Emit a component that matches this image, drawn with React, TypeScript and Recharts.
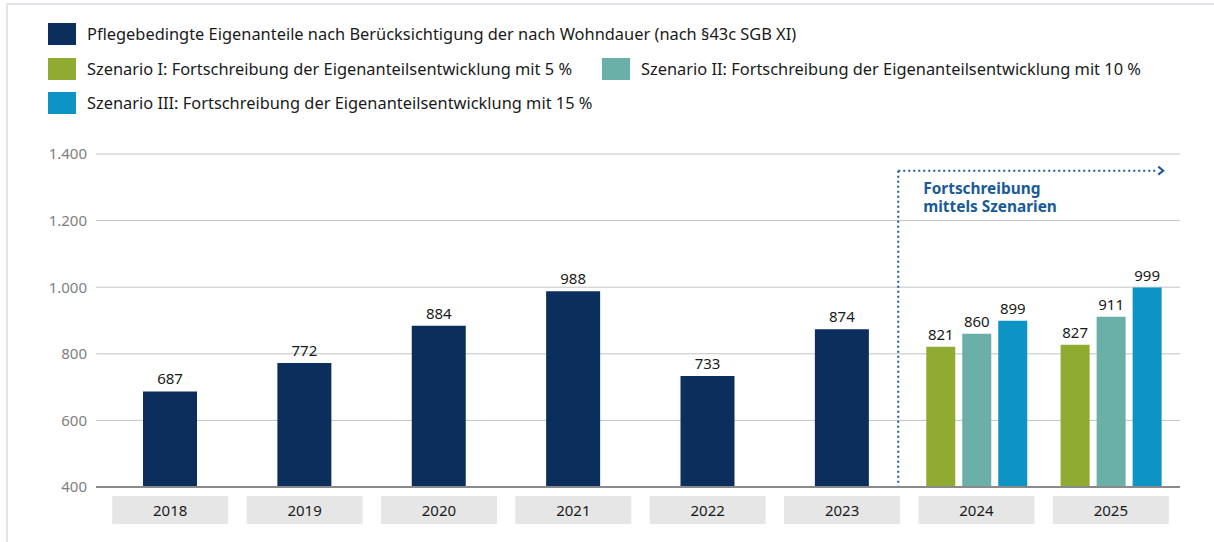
import React from "react";
import {
  BarChart,
  Bar,
  XAxis,
  YAxis,
  CartesianGrid,
  LabelList,
  ReferenceLine,
} from "recharts";

// Werte (Euro pro Monat)
const years = ["2018", "2019", "2020", "2021", "2022", "2023", "2024", "2025"];
const eigenanteile = [687, 772, 884, 988, 733, 874, null, null];
const szenarioI = [null, null, null, null, null, null, 821, 827];
const szenarioII = [null, null, null, null, null, null, 860, 911];
const szenarioIII = [null, null, null, null, null, null, 899, 999];
const yTicks = [400, 600, 800, 1000, 1200, 1400];

const seriesNames = [
  "Pflegebedingte Eigenanteile nach Berücksichtigung der nach Wohndauer (nach §43c SGB XI)",
  "Szenario I: Fortschreibung der Eigenanteilsentwicklung mit 5 %",
  "Szenario II: Fortschreibung der Eigenanteilsentwicklung mit 10 %",
  "Szenario III: Fortschreibung der Eigenanteilsentwicklung mit 15 %",
];
const annotationLines = ["Fortschreibung", "mittels Szenarien"];

const COLORS = ["#0c2e5c", "#8fab32", "#6aafa8", "#0d93c4"];
const FONT = "'Noto Sans', sans-serif";
const BLUE_TEXT = "#1a5b96";

const data = years.map((year, i) => ({
  year,
  eigenanteile: eigenanteile[i],
  szenarioI: szenarioI[i],
  szenarioII: szenarioII[i],
  szenarioIII: szenarioIII[i],
}));

const fmt = (v: number) => v.toLocaleString("de-DE");

const YearTick = (props: any) => {
  const { x, y, payload } = props;
  return (
    <g>
      <rect x={x - 58} y={y + 1} width={116} height={28} fill="#e6e6e6" />
      <text
        x={x}
        y={y + 21}
        textAnchor="middle"
        fontSize={15}
        fontFamily={FONT}
        fill="#1a1a1a"
      >
        {payload.value}
      </text>
    </g>
  );
};

// gepunktete Trennlinie + Pfeil + Beschriftung für die Szenarien
const ScenarioMarker = (props: any) => {
  const { x1, y1, y2 } = props;
  const x = x1 - 11;
  const dots = { stroke: BLUE_TEXT, strokeWidth: 2, strokeDasharray: "2 3" };
  return (
    <g>
      <line x1={x} y1={y1} x2={x} y2={y2} {...dots} />
      <line x1={x} y1={y1} x2={x + 260} y2={y1} {...dots} />
      <path
        d={`M${x + 260},${y1 - 4} L${x + 265},${y1} L${x + 260},${y1 + 4}`}
        fill="none"
        stroke={BLUE_TEXT}
        strokeWidth={2}
      />
      <text
        x={x + 25}
        y={y1 + 23}
        fontSize={15.4}
        fontWeight={700}
        fontFamily={FONT}
        fill={BLUE_TEXT}
      >
        {annotationLines.map((t, i) => (
          <tspan key={t} x={x + 25} dy={i === 0 ? 0 : 18}>
            {t}
          </tspan>
        ))}
      </text>
    </g>
  );
};

const LegendBox = () => {
  const item = (i: number, left: number, top: number) => (
    <div
      key={i}
      style={{
        position: "absolute",
        left,
        top,
        display: "flex",
        alignItems: "center",
        whiteSpace: "nowrap",
      }}
    >
      <span
        style={{
          display: "inline-block",
          width: 28,
          height: 22,
          background: COLORS[i],
          marginRight: 11,
        }}
      />
      <span style={{ fontSize: 16.4, color: "#1a1a1a", fontFamily: FONT }}>
        {seriesNames[i]}
      </span>
    </div>
  );
  return (
    <div style={{ position: "absolute", left: 0, top: 0, width: 1214, height: 120 }}>
      {item(0, 48, 22)}
      {item(1, 48, 57)}
      {item(2, 602, 57)}
      {item(3, 48, 91)}
    </div>
  );
};

const labelProps = {
  position: "top" as const,
  offset: 7,
  fill: "#1a1a1a",
  fontSize: 15,
  fontFamily: FONT,
};

export default function App() {
  return (
    <div
      style={{
        position: "absolute",
        left: 0,
        top: 0,
        width: 1214,
        height: 542,
        background: "#fff",
        overflow: "hidden",
      }}
    >
      <div
        style={{
          position: "absolute",
          left: 6,
          top: 3,
          right: -10,
          bottom: -10,
          borderLeft: "2px solid #e2e5e9",
          borderTop: "2px solid #e2e5e9",
        }}
      />
      <BarChart
        width={1214}
        height={542}
        data={data}
        margin={{ top: 154, right: 34, bottom: 25, left: 36 }}
        barGap={7}
        style={{ position: "absolute", left: 0, top: 0 }}
      >
        <CartesianGrid
          xAxisId="hist"
          vertical={false}
          stroke="#c4c4c4"
          strokeWidth={1}
        />
        <XAxis
          xAxisId="hist"
          dataKey="year"
          type="category"
          height={30}
          padding={{ left: 7, right: 2 }}
          tickLine={false}
          axisLine={{ stroke: "#8a8a8a", strokeWidth: 2 }}
          tick={<YearTick />}
          interval={0}
        />
        <XAxis
          xAxisId="scen"
          dataKey="year"
          type="category"
          hide
          padding={{ left: 7, right: 2 }}
        />
        <YAxis
          domain={[400, 1400]}
          ticks={yTicks}
          width={60}
          axisLine={false}
          tickLine={false}
          tickSize={0}
          tickMargin={9}
          tickFormatter={fmt}
          tick={{ fill: "#808080", fontSize: 15, fontFamily: FONT }}
          allowDataOverflow
        />
        <ReferenceLine
          xAxisId="hist"
          segment={[
            { x: "2024", y: 1350 },
            { x: "2024", y: 400 },
          ]}
          position="start"
          ifOverflow="visible"
          shape={<ScenarioMarker />}
        />
        <Bar
          xAxisId="hist"
          dataKey="eigenanteile"
          name={seriesNames[0]}
          fill={COLORS[0]}
          barSize={54}
          isAnimationActive={false}
        >
          <LabelList dataKey="eigenanteile" {...labelProps} />
        </Bar>
        <Bar
          xAxisId="scen"
          dataKey="szenarioI"
          name={seriesNames[1]}
          fill={COLORS[1]}
          barSize={29}
          isAnimationActive={false}
        >
          <LabelList dataKey="szenarioI" {...labelProps} />
        </Bar>
        <Bar
          xAxisId="scen"
          dataKey="szenarioII"
          name={seriesNames[2]}
          fill={COLORS[2]}
          barSize={29}
          isAnimationActive={false}
        >
          <LabelList dataKey="szenarioII" {...labelProps} />
        </Bar>
        <Bar
          xAxisId="scen"
          dataKey="szenarioIII"
          name={seriesNames[3]}
          fill={COLORS[3]}
          barSize={29}
          isAnimationActive={false}
        >
          <LabelList dataKey="szenarioIII" {...labelProps} />
        </Bar>
      </BarChart>
      <LegendBox />
    </div>
  );
}
